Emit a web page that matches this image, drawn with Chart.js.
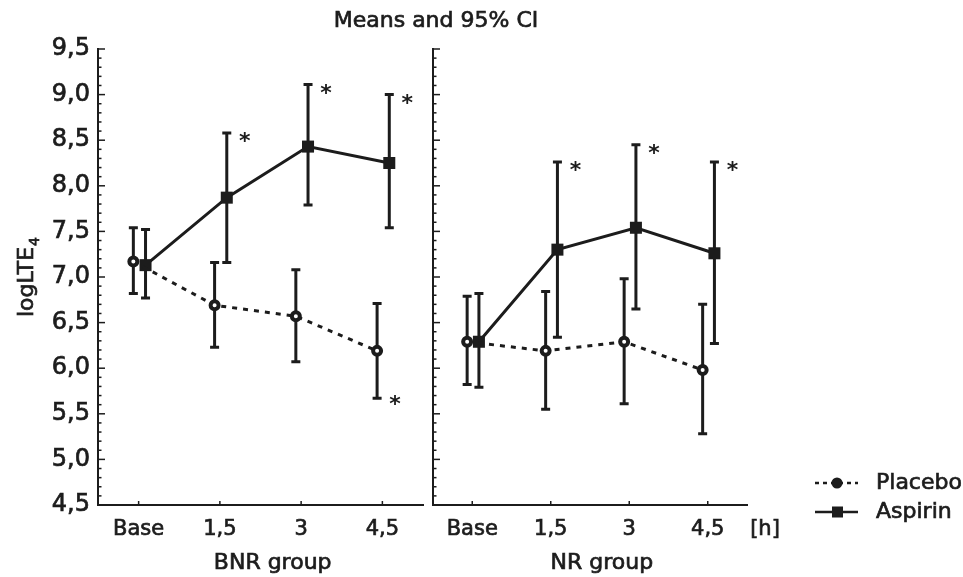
<!DOCTYPE html>
<html>
<head>
<meta charset="utf-8">
<script src="https://cdn.jsdelivr.net/npm/chart.js@4.4.1/dist/chart.umd.min.js"></script>
<style>
body { margin: 0; background: #fff; }
#wrap { position: relative; width: 963px; height: 577px; }
#wrap canvas { position: absolute; left: 0; top: 0; }
</style>
</head>
<body>
<div id="wrap">
  <canvas id="chartBNR" width="963" height="577"></canvas>
  <canvas id="chartNR" width="963" height="577"></canvas>
</div>
<script>
// dados //
var timeLabels = ['Base', '1,5', '3', '4,5']
var yMin = 4.5, yMax = 9.5, yStep = 0.5

var bnrPlacebo     = [7.17, 6.69, 6.57, 6.19]
var bnrPlaceboLow  = [6.82, 6.23, 6.07, 5.67]
var bnrPlaceboHigh = [7.54, 7.16, 7.08, 6.71]
var bnrPlaceboSig  = [0, 0, 0, 1]

var bnrAspirin     = [7.13, 7.87, 8.43, 8.25]
var bnrAspirinLow  = [6.77, 7.16, 7.79, 7.54]
var bnrAspirinHigh = [7.52, 8.58, 9.11, 9.00]
var bnrAspirinSig  = [0, 1, 1, 1]

var nrPlacebo     = [6.29, 6.19, 6.29, 5.98]
var nrPlaceboLow  = [5.82, 5.55, 5.61, 5.28]
var nrPlaceboHigh = [6.79, 6.84, 6.98, 6.70]
var nrPlaceboSig  = [0, 0, 0, 0]

var nrAspirin     = [6.29, 7.30, 7.54, 7.26]
var nrAspirinLow  = [5.79, 6.34, 6.65, 6.27]
var nrAspirinHigh = [6.82, 8.26, 8.45, 8.26]
var nrAspirinSig  = [0, 1, 1, 1]

var ink = '#1c1c1c'
var FONT = 'DejaVu Sans'
Chart.defaults.font.family = FONT
Chart.defaults.color = ink

function fmt(v) {
    return v.toFixed(1).replace('.', ',')
}

// texto com um traço leve, para ficar mais encorpado //
function heavyText(ctx, txt, x, y) {
    ctx.lineWidth = 0.7
    ctx.strokeText(txt, x, y)
    ctx.fillText(txt, x, y)
}

function series(label, means, low, high, sig, shift, placebo) {
    return {
        label: label,
        data: means.map(function(m, i) { return {x: i + shift, y: m} }),
        ciLow: low,
        ciHigh: high,
        sig: sig,
        starAt: placebo ? 'low' : 'high',
        borderColor: ink,
        borderWidth: 3,
        borderDash: placebo ? [5, 6] : [],
        tension: 0,
        pointStyle: placebo ? 'circle' : 'rect',
        pointRadius: placebo ? 4 : 8.5,
        pointBorderWidth: placebo ? 4 : 0,
        pointBorderColor: ink,
        pointBackgroundColor: placebo ? '#fff' : ink
    }
}

//Barras de erro e asteriscos//
var errorBars = {
    id: 'errorBars',
    beforeDatasetsDraw: function(chart) {
        var ctx = chart.ctx, xs = chart.scales.x, ys = chart.scales.y
        ctx.save()
        ctx.strokeStyle = ink
        ctx.lineWidth = 3
        chart.data.datasets.forEach(function(ds) {
            ds.data.forEach(function(p, i) {
                var px = xs.getPixelForValue(p.x)
                var top = ys.getPixelForValue(ds.ciHigh[i])
                var bot = ys.getPixelForValue(ds.ciLow[i])
                ctx.beginPath()
                ctx.moveTo(px, top); ctx.lineTo(px, bot)
                ctx.moveTo(px - 4.5, top); ctx.lineTo(px + 4.5, top)
                ctx.moveTo(px - 4.5, bot); ctx.lineTo(px + 4.5, bot)
                ctx.stroke()
            })
        })
        ctx.restore()
    },
    afterDatasetsDraw: function(chart) {
        var ctx = chart.ctx, xs = chart.scales.x, ys = chart.scales.y
        ctx.save()
        ctx.fillStyle = ink
        ctx.font = 'bold 22px ' + FONT
        ctx.textAlign = 'center'
        ctx.textBaseline = 'alphabetic'
        chart.data.datasets.forEach(function(ds) {
            ds.data.forEach(function(p, i) {
                if (!ds.sig[i]) return
                var px = xs.getPixelForValue(p.x) + 18
                var py = ds.starAt == 'high' ? ys.getPixelForValue(ds.ciHigh[i]) + 2 : ys.getPixelForValue(ds.ciLow[i])
                ctx.fillText('*', px, py + 13)
            })
        })
        ctx.restore()
    }
}

//Marcas dos eixos e nome do grupo//
var panelDecor = {
    id: 'panelDecor',
    afterDraw: function(chart, args, opts) {
        var ctx = chart.ctx, xs = chart.scales.x, ys = chart.scales.y, area = chart.chartArea
        ctx.save()
        ctx.strokeStyle = ink
        ctx.lineWidth = 1.5
        for (var k = Math.round(ys.min * 10); k <= Math.round(ys.max * 10); k++) {
            var py = ys.getPixelForValue(k / 10)
            var len = k % 5 === 0 ? 7 : 3.5
            ctx.beginPath()
            ctx.moveTo(area.left, py)
            ctx.lineTo(area.left + len, py)
            ctx.stroke()
        }
        xs.ticks.forEach(function(t) {
            var px = xs.getPixelForValue(t.value)
            ctx.beginPath()
            ctx.moveTo(px, area.bottom)
            ctx.lineTo(px, area.bottom - 4)
            ctx.stroke()
        })
        ctx.fillStyle = ink
        ctx.font = '22px ' + FONT
        ctx.textAlign = 'center'
        ctx.textBaseline = 'middle'
        heavyText(ctx, opts.group, xs.getPixelForValue(1.65), area.bottom + 58)
        ctx.restore()
    }
}

//Título e rótulo do eixo y//
var leftText = {
    id: 'leftText',
    afterDraw: function(chart) {
        var ctx = chart.ctx
        ctx.save()
        ctx.fillStyle = ink
        ctx.strokeStyle = ink
        ctx.font = '22px ' + FONT
        ctx.textAlign = 'center'
        ctx.textBaseline = 'alphabetic'
        heavyText(ctx, 'Means and 95% CI', 436, 27)

        ctx.translate(33, 277)
        ctx.rotate(-Math.PI / 2)
        ctx.textAlign = 'left'
        ctx.font = '22px ' + FONT
        var w1 = ctx.measureText('logLTE').width
        ctx.font = '14px ' + FONT
        var w2 = ctx.measureText('4').width
        var start = -(w1 + w2 + 1) / 2
        ctx.font = '22px ' + FONT
        heavyText(ctx, 'logLTE', start, 0)
        ctx.font = '14px ' + FONT
        heavyText(ctx, '4', start + w1 + 1, 6)
        ctx.restore()
    }
}

//Legenda e unidade//
var rightText = {
    id: 'rightText',
    afterDraw: function(chart) {
        var ctx = chart.ctx
        ctx.save()
        ctx.fillStyle = ink
        ctx.strokeStyle = ink
        ctx.font = '21px ' + FONT
        ctx.textAlign = 'center'
        ctx.textBaseline = 'middle'
        heavyText(ctx, '[h]', 765, 530)

        var rows = [483, 512]
        chart.data.datasets.forEach(function(ds, i) {
            var y = rows[i]
            ctx.lineWidth = 2.5
            ctx.setLineDash(ds.borderDash.length ? [4, 4] : [])
            ctx.beginPath()
            ctx.moveTo(815, y)
            ctx.lineTo(858, y)
            ctx.stroke()
            ctx.setLineDash([])
            if (ds.pointStyle == 'circle') {
                ctx.beginPath()
                ctx.arc(837, y, 5.5, 0, Math.PI * 2)
                ctx.fill()
            } else {
                ctx.fillRect(832, y - 5.5, 11, 11)
            }
            ctx.textAlign = 'left'
            ctx.font = '22px ' + FONT
            heavyText(ctx, ds.label, 876, y)
        })
        ctx.restore()
    }
}

function makePanel(canvas, group, datasets, padLeft, padRight, showY, extra) {
    return new Chart(canvas, {
        type: 'line',
        data: {datasets: datasets},
        plugins: [errorBars, panelDecor, extra],
        options: {
            responsive: false,
            animation: false,
            layout: {padding: {left: padLeft, right: padRight, top: 49, bottom: 0}},
            plugins: {
                legend: {display: false},
                tooltip: {enabled: false},
                panelDecor: {group: group}
            },
            scales: {
                x: {
                    type: 'linear',
                    min: -0.5,
                    max: 3.5,
                    afterBuildTicks: function(s) {
                        s.ticks = timeLabels.map(function(l, i) { return {value: i} })
                    },
                    afterFit: function(s) { s.height = 72 },
                    grid: {display: false, drawTicks: false},
                    border: {display: true, color: ink, width: 2},
                    ticks: {
                        padding: 12,
                        autoSkip: false,
                        maxRotation: 0,
                        font: {size: 21},
                        textStrokeColor: ink,
                        textStrokeWidth: 0.7,
                        callback: function(v) { return timeLabels[v] }
                    }
                },
                y: {
                    min: yMin,
                    max: yMax,
                    afterFit: function(s) { s.width = showY ? 98 : 0 },
                    grid: {display: false, drawTicks: false},
                    border: {display: true, color: ink, width: 2},
                    ticks: {
                        display: showY,
                        stepSize: yStep,
                        padding: 8,
                        font: {size: 24},
                        textStrokeColor: ink,
                        textStrokeWidth: 0.7,
                        callback: function(v) { return fmt(v) }
                    }
                }
            }
        }
    })
}

var chartBNR = makePanel(document.getElementById('chartBNR'), 'BNR group', [
    series('Placebo', bnrPlacebo, bnrPlaceboLow, bnrPlaceboHigh, bnrPlaceboSig, -0.065, true),
    series('Aspirin', bnrAspirin, bnrAspirinLow, bnrAspirinHigh, bnrAspirinSig, 0.085, false)
], 0, 540, true, leftText)

var chartNR = makePanel(document.getElementById('chartNR'), 'NR group', [
    series('Placebo', nrPlacebo, nrPlaceboLow, nrPlaceboHigh, nrPlaceboSig, -0.065, true),
    series('Aspirin', nrAspirin, nrAspirinLow, nrAspirinHigh, nrAspirinSig, 0.085, false)
], 433, 216, false, rightText)
</script>
</body>
</html>
